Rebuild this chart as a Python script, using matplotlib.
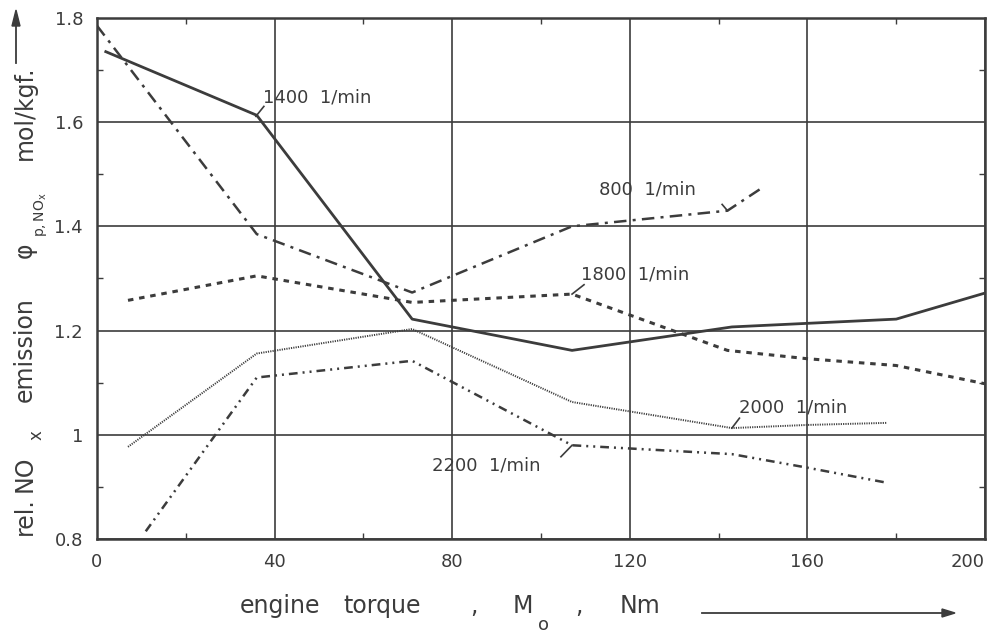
import matplotlib.pyplot as plt
from matplotlib.ticker import MultipleLocator, FixedLocator

plt.rcParams.update({'font.size': 13, 'font.family': 'DejaVu Sans'})
ink = '#3c3c3c'

# engine speed curves: torque (Nm) vs relative NOx emission
x_1400 = [2, 36, 71, 107, 143, 180, 200]
y_1400 = [1.735, 1.613, 1.222, 1.162, 1.207, 1.222, 1.272]

x_800 = [0, 36, 71, 107, 142, 150]
y_800 = [1.785, 1.385, 1.273, 1.400, 1.430, 1.475]

x_1800 = [7, 36, 71, 107, 142, 160, 180, 200]
y_1800 = [1.258, 1.305, 1.254, 1.270, 1.162, 1.146, 1.133, 1.098]

x_2000 = [7, 36, 71, 107, 143, 160, 178]
y_2000 = [0.977, 1.156, 1.203, 1.063, 1.013, 1.019, 1.023]

x_2200 = [11, 36, 71, 107, 143, 160, 178]
y_2200 = [0.815, 1.110, 1.142, 0.980, 0.963, 0.937, 0.908]

speed_labels = ['1400  1/min', '800  1/min', '1800  1/min', '2000  1/min', '2200  1/min']

xticks = [0, 40, 80, 120, 160, 200]
yticks = [0.8, 1.0, 1.2, 1.4, 1.6, 1.8]
ytick_labels = ['0.8', '1', '1.2', '1.4', '1.6', '1.8']

W, H = 999, 635
fig = plt.figure(figsize=(W / 100, H / 100), dpi=100)
ax = fig.add_axes([0.097, 0.151, 0.889, 0.821])

ax.plot(x_1400, y_1400, color=ink, lw=2.0, ls='-')
ax.plot(x_800, y_800, color=ink, lw=1.8, dashes=(5, 2.5, 1.2, 2.5))
ax.plot(x_1800, y_1800, color=ink, lw=2.2, dashes=(1.8, 1.9))
ax.plot(x_2000, y_2000, color=ink, lw=1.4, dashes=(0.6, 0.6))
ax.plot(x_2200, y_2200, color=ink, lw=1.8, dashes=(3.5, 2, 0.8, 2, 0.8, 2))

# label text position and leader line (from curve point to label)
label_pos = [(37.5, 1.648), (113, 1.470), (109, 1.307), (144.7, 1.053), (75.4, 0.942)]
leaders = [
    ([35.8, 37.6], [1.611, 1.630]),
    ([142, 140.8], [1.430, 1.442]),
    ([107, 109.7], [1.270, 1.288]),
    ([143, 144.7], [1.013, 1.032]),
    ([107, 104.5], [0.980, 0.958]),
]
for txt, (tx, ty), (lx, ly) in zip(speed_labels, label_pos, leaders):
    ax.plot(lx, ly, color=ink, lw=1.2)
    ax.text(tx, ty, txt, color=ink, fontsize=13, va='center', ha='left')

ax.set_xlim(0, 200)
ax.set_ylim(0.8, 1.8)
ax.xaxis.set_major_locator(FixedLocator(xticks))
ax.yaxis.set_major_locator(FixedLocator(yticks))
ax.set_yticklabels(ytick_labels)
ax.xaxis.set_minor_locator(MultipleLocator(20))
ax.yaxis.set_minor_locator(MultipleLocator(0.1))
ax.tick_params(which='major', length=0, pad=10, colors=ink, labelsize=13)
ax.tick_params(which='minor', direction='in', length=4, width=1,
               color=ink, top=True, right=True)
ax.get_xticklabels()[-1].set_horizontalalignment('right')
ax.grid(True, which='major', color=ink, lw=1.2)
for s in ax.spines.values():
    s.set_color(ink)
    s.set_linewidth(1.8)


def fx(px):
    return px / W


def fy(py):
    return 1 - py / H


# x axis title, word by word
for word, px in [('engine', 240), ('torque', 343), (',', 470), ('M', 513),
                 (',', 575), ('Nm', 620)]:
    fig.text(fx(px), fy(613), word, ha='left', va='baseline',
             fontsize=17, color=ink)
fig.text(fx(538), fy(630), 'o', ha='left', va='baseline', fontsize=13, color=ink)
fig.add_artist(plt.Line2D([fx(702), fx(945)], [fy(613), fy(613)],
                          color=ink, lw=1.3))
fig.patches.append(plt.Polygon([[fx(942), fy(609)], [fx(942), fy(617)],
                                [fx(955), fy(613)]],
                               closed=True, transform=fig.transFigure, color=ink))

# y axis title, rotated pieces
for word, py, bx, fs in [('rel.', 535, 32, 17), ('NO', 492, 32, 17),
                         ('x', 440, 42, 12), ('emission', 402, 32, 17),
                         ('φ', 258, 32, 17),
                         ('$\\mathregular{p,NO_x}$', 237, 44, 10),
                         ('mol/kgf.', 160, 32, 17)]:
    fig.text(fx(bx), fy(py), word, rotation=90, rotation_mode='anchor',
             ha='left', va='baseline', fontsize=fs, color=ink)
fig.add_artist(plt.Line2D([fx(16), fx(16)], [fy(63), fy(22)],
                          color=ink, lw=1.3))
fig.patches.append(plt.Polygon([[fx(12), fy(26)], [fx(20), fy(26)],
                                [fx(16), fy(10)]],
                               closed=True, transform=fig.transFigure, color=ink))

plt.savefig('out.png', dpi=100)
